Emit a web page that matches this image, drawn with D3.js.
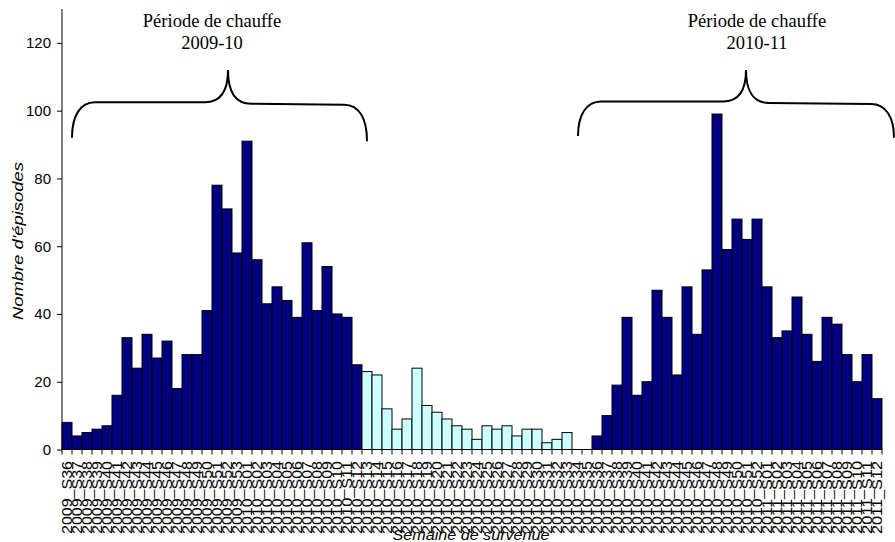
<!DOCTYPE html>
<html>
<head>
<meta charset="utf-8">
<script src="https://cdn.jsdelivr.net/npm/d3@7"></script>
<style>
  body { margin: 0; background: #fff; }
  svg { display: block; }
</style>
</head>
<body>
<div id="chart"></div>
<script>
// weekly counts, 2009_S36 .. 2011_S12
const weeks2009 = d3.range(36, 54);
const weeks2010 = d3.range(1, 53);
const weeks2011 = d3.range(1, 13);

const values2009 = [8, 4, 5, 6, 7, 16, 33, 24, 34, 27, 32, 18, 28, 28, 41, 78, 71, 58];
const values2010 = [91, 56, 43, 48, 44, 39, 61, 41, 54, 40, 39, 25,
    23, 22, 12, 6, 9, 24, 13, 11, 9, 7, 6, 3, 7, 6, 7, 4, 6, 6, 2, 3, 5, 0, 0,
    4, 10, 19, 39, 16, 20, 47, 39, 22, 48, 34, 53, 99, 59, 68, 62, 68];
const values2011 = [48, 33, 35, 45, 34, 26, 39, 37, 28, 20, 28, 15];

// heating period flag per week (2010_S13 .. 2010_S35 are outside)
const heating2010 = weeks2010.map(w => w <= 12 || w >= 36);

const yTicks = [0, 20, 40, 60, 80, 100, 120];

const pad = (w) => (w < 10 ? '0' : '') + w;
const categories = [
    ...weeks2009.map(w => '2009_S' + pad(w)),
    ...weeks2010.map(w => '2010_S' + pad(w)),
    ...weeks2011.map(w => '2011_S' + pad(w)),
];
const counts = [...values2009, ...values2010, ...values2011];
const heating = [...weeks2009.map(() => true), ...heating2010, ...weeks2011.map(() => true)];

const data = categories.map((c, i) => ({ cat: c, value: counts[i], heating: heating[i] }));

const width = 895;
const height = 542;

const svg = d3.select('#chart')
    .append('svg')
    .attr('width', width)
    .attr('height', height);

const x = d3.scaleBand()
    .domain(categories)
    .range([62, 882])
    .padding(0);

const y = d3.scaleLinear()
    .domain([0, 130])
    .range([449.5, 9]);

const xAt = (i) => x(categories[0]) + i * x.step();

// bars
svg.selectAll('.bar')
    .data(data)
    .enter()
    .append('rect')
    .attr('class', 'bar')
    .attr('x', d => x(d.cat))
    .attr('y', d => y(d.value))
    .attr('width', x.bandwidth())
    .attr('height', d => y(0) - y(d.value))
    .style('fill', d => d.heating ? '#000080' : '#ccffff')
    .style('stroke', '#000')
    .style('stroke-width', 1)
    .style('display', d => d.value > 0 ? null : 'none');

// y axis
const yAxis = svg.append('g')
    .attr('transform', 'translate(62,0)')
    .call(d3.axisLeft(y).tickValues(yTicks).tickSize(5).tickPadding(6).tickSizeOuter(0));
yAxis.select('.domain').remove();
yAxis.append('line')
    .attr('x1', 0).attr('x2', 0)
    .attr('y1', y(130)).attr('y2', y(0))
    .style('stroke', '#000');
yAxis.selectAll('text')
    .style('font-family', 'Liberation Sans, Arial, sans-serif')
    .style('font-size', '15px')
    .style('fill', '#000');
yAxis.selectAll('.tick line').style('stroke', '#000');

// x axis
svg.append('line')
    .attr('x1', x.range()[0]).attr('x2', x.range()[1])
    .attr('y1', y(0)).attr('y2', y(0))
    .style('stroke', '#000');

svg.selectAll('.xtick')
    .data(d3.range(categories.length + 1))
    .enter()
    .append('line')
    .attr('x1', i => xAt(i)).attr('x2', i => xAt(i))
    .attr('y1', y(0)).attr('y2', y(0) + 5)
    .style('stroke', '#000');

svg.selectAll('.xlabel')
    .data(categories)
    .enter()
    .append('text')
    .attr('transform', d => 'translate(' + (x(d) + x.bandwidth() / 2) + ',461) rotate(-90)')
    .attr('dy', '0.36em')
    .attr('text-anchor', 'end')
    .attr('textLength', 73)
    .attr('lengthAdjust', 'spacingAndGlyphs')
    .style('font-family', 'Liberation Sans, Arial, sans-serif')
    .style('font-size', '14px')
    .text(d => d);

// axis titles
svg.append('text')
    .attr('transform', 'translate(23,241) rotate(-90)')
    .attr('text-anchor', 'middle')
    .attr('textLength', 158)
    .attr('lengthAdjust', 'spacingAndGlyphs')
    .style('font-family', 'Liberation Sans, Arial, sans-serif')
    .style('font-style', 'italic')
    .style('font-size', '15px')
    .text("Nombre d'épisodes");

svg.append('text')
    .attr('x', 471)
    .attr('y', 540)
    .attr('text-anchor', 'middle')
    .attr('textLength', 157)
    .attr('lengthAdjust', 'spacingAndGlyphs')
    .style('font-family', 'Liberation Sans, Arial, sans-serif')
    .style('font-style', 'italic')
    .style('font-size', '15px')
    .text('Semaine de survenue');

// heating period braces (positions in category / value units)
const braces = [
    { left: 1.0, tip: 16.6, right: 30.5, yl: 92, yr: 91, yh: 102.5, yt: 112, label: ['Période de chauffe', '2009-10'], tx: 212 },
    { left: 51.6, tip: 68.4, right: 83.2, yl: 92.5, yr: 92, yh: 102.7, yt: 112, label: ['Période de chauffe', '2010-11'], tx: 757 },
];

function bracePath(b) {
    const xl = xAt(b.left), xr = xAt(b.right), xt = xAt(b.tip);
    const yl = y(b.yl), yr = y(b.yr), yh = y(b.yh), yt = y(b.yt);
    const p = d3.path();
    p.moveTo(xl, yl);
    p.bezierCurveTo(xl, yh + 14, xl + 8, yh, xl + 23, yh);
    p.lineTo(xt - 23, yh);
    p.bezierCurveTo(xt - 8, yh, xt, yh - 10, xt, yt);
    p.bezierCurveTo(xt, yh - 10, xt + 8, yh + 1.5, xt + 23, yh + 1.5);
    p.lineTo(xr - 23, yh + 2.5);
    p.bezierCurveTo(xr - 8, yh + 2.5, xr, yh + 16, xr, yr);
    return p.toString();
}

svg.selectAll('.brace')
    .data(braces)
    .enter()
    .append('path')
    .attr('d', bracePath)
    .style('fill', 'none')
    .style('stroke', '#000')
    .style('stroke-width', 2);

braces.forEach((b) => {
    const t = svg.append('text')
        .attr('text-anchor', 'middle')
        .style('font-family', 'Liberation Serif, Times New Roman, serif')
        .style('font-size', '18.5px');
    t.append('tspan').attr('x', b.tx).attr('y', 27).text(b.label[0]);
    t.append('tspan').attr('x', b.tx).attr('y', 48.5).text(b.label[1]);
});
</script>
</body>
</html>
